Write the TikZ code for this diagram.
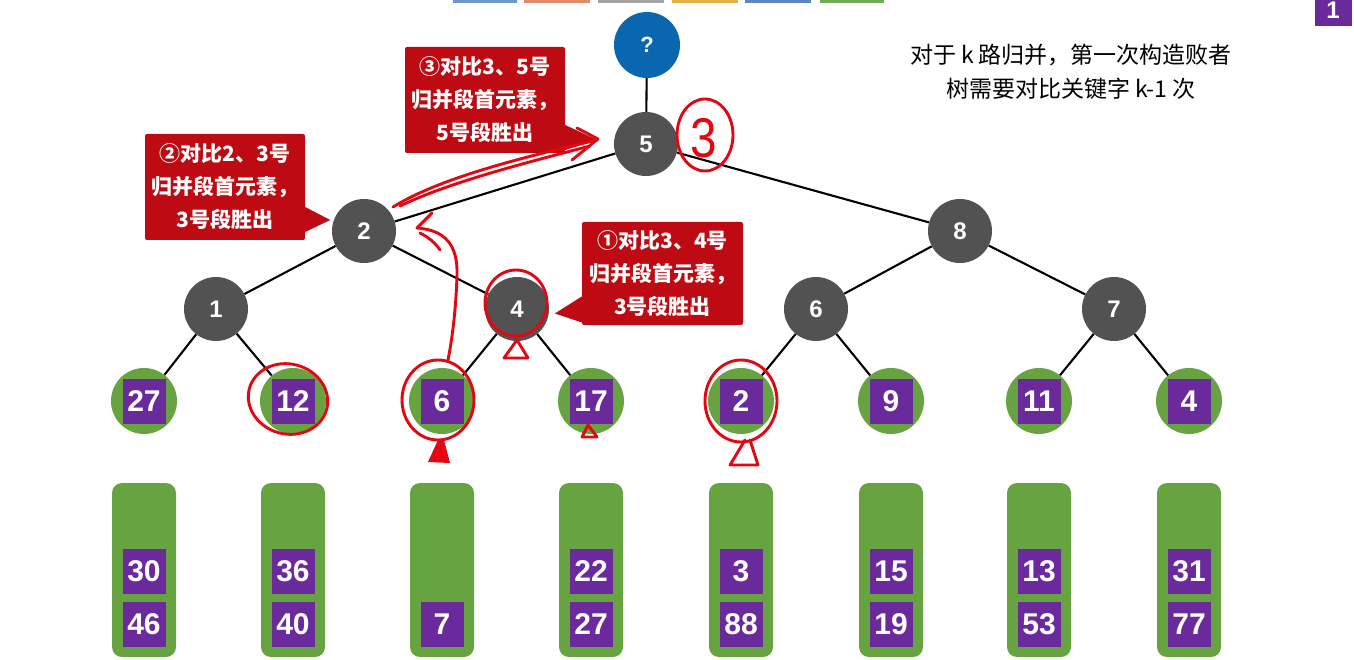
\documentclass[tikz,border=0pt]{standalone}
\usepackage{fontspec}
\setmainfont{Liberation Sans}
\newfontfamily\cjk{Noto Sans CJK SC}
\usetikzlibrary{calc}
\definecolor{nodegray}{HTML}{525252}
\definecolor{rootblue}{HTML}{0A67AF}
\definecolor{leafgreen}{HTML}{68A342}
\definecolor{keypurple}{HTML}{6B2A9B}
\definecolor{callred}{HTML}{BE0A12}
\definecolor{inkred}{HTML}{E30613}
\definecolor{barblue}{HTML}{7096C8}
\definecolor{barorange}{HTML}{E08A6C}
\definecolor{bargray}{HTML}{A4A4A4}
\definecolor{baryellow}{HTML}{E2B344}
\definecolor{barblueb}{HTML}{5E84C2}
\definecolor{bargreen}{HTML}{74A957}
\begin{document}
\begin{tikzpicture}[x=1pt,y=-1pt,
 innernode/.style={circle, fill=nodegray, minimum size=64pt, inner sep=0pt, text=white, font=\bfseries\fontsize{24}{24}\selectfont},
 rootnode/.style={innernode, fill=rootblue, minimum size=66pt, font=\bfseries\fontsize{22}{22}\selectfont},
 leafnode/.style={circle, fill=leafgreen, minimum size=66pt, inner sep=0pt},
 keybox/.style={fill=keypurple, minimum width=43pt, minimum height=45pt, inner sep=0pt, text=white, font=\bfseries\fontsize{30}{30}\selectfont},
 runbox/.style={fill=leafgreen, rounded corners=10pt, minimum width=64pt, minimum height=174pt, inner sep=0pt},
 edge/.style={line width=2.1pt, black},
 callout/.style={fill=callred, text=white, inner sep=0pt, minimum width=160pt, minimum height=106pt, align=center, font=\cjk\bfseries\fontsize{21}{33}\selectfont, rounded corners=2pt},
 ink/.style={draw=inkred, line width=2.9pt, line cap=round, line join=round},
]
\useasboundingbox (0,0) rectangle (1354,660);
\fill[white] (0,0) rectangle (1354,660);

% top colour bars
\fill[barblue] (453,0) rectangle (517,3);
\fill[barorange] (524,0) rectangle (590,3);
\fill[bargray] (598,0) rectangle (664,3);
\fill[baryellow] (672,0) rectangle (738,3);
\fill[barblueb] (745,0) rectangle (811,3);
\fill[bargreen] (820,0) rectangle (884,3);

% top-right page marker
\begin{scope}
\clip (0,0) rectangle (1354,660);
\node[fill=keypurple, minimum width=37pt, minimum height=32pt, inner sep=0pt, text=white, font=\bfseries\fontsize{24}{24}\selectfont] (pg) at (1333,10) {1};
\end{scope}

% tree nodes
\node[rootnode] (root) at (647,45) {?};
\node[innernode] (n5) at (646,144) {5};
\node[innernode] (n2) at (364,231) {2};
\node[innernode] (n8) at (960,231) {8};
\node[innernode] (n1) at (216,309) {1};
\node[innernode] (n4) at (517,309) {4};
\node[innernode] (n6) at (816,309) {6};
\node[innernode] (n7) at (1114,309) {7};

\foreach \i/\x/\v in {1/144/27,2/293/12,3/442/6,4/591/17,5/741/2,6/891/9,7/1039/11,8/1189/4} {
  \node[leafnode] (l\i) at (\x,401) {};
  \node[keybox] (k\i) at (\x,401) {\v};
  \node[runbox] (r\i) at (\x,570) {};
}
\foreach \i/\x/\a/\b in {1/144/30/46,2/293/36/40,4/591/22/27,5/741/3/88,6/891/15/19,7/1039/13/53,8/1189/31/77} {
  \node[keybox] (ra\i) at (\x,571) {\a};
  \node[keybox] (rb\i) at (\x,624) {\b};
}
\node[keybox] (rb3) at (442,624) {7};

% edges
\draw[edge] (root) -- (n5);
\draw[edge] (n5) -- (n2);
\draw[edge] (n5) -- (n8);
\draw[edge] (n2) -- (n1);
\draw[edge] (n2) -- (n4);
\draw[edge] (n8) -- (n6);
\draw[edge] (n8) -- (n7);
\draw[edge] (n1) -- (l1);
\draw[edge] (n1) -- (l2);
\draw[edge] (n4) -- (l3);
\draw[edge] (n4) -- (l4);
\draw[edge] (n6) -- (l5);
\draw[edge] (n6) -- (l6);
\draw[edge] (n7) -- (l7);
\draw[edge] (n7) -- (l8);

% callouts
\node[callout] (c3) at (485,100) {③对比3、5号\\归并段首元素，\\5号段胜出};
\fill[callred] ($(c3.east)+(0,25)$) -- ($(c3.east)+(32,40)$) -- ($(c3.east)+(0,50)$) -- cycle;
\node[callout] (c2) at (225,187) {②对比2、3号\\归并段首元素，\\3号段胜出};
\fill[callred] ($(c2.east)+(0,20)$) -- ($(c2.east)+(25,33)$) -- ($(c2.east)+(0,45)$) -- cycle;
\node[callout, minimum width=161pt, minimum height=103pt] (c1) at (662.5,273.5) {①对比3、4号\\归并段首元素，\\3号段胜出};
\fill[callred] ($(c1.west)+(0,23)$) -- ($(c1.west)+(-27,40)$) -- ($(c1.west)+(0,49)$) -- cycle;

% note
\node[font=\cjk\fontsize{23}{34}\selectfont, align=center] (note) at (1071,72) {对于 k 路归并，第一次构造败者\\树需要对比关键字 k-1 次};

% hand-drawn red ink
\node[text=inkred, font=\fontsize{56}{56}\selectfont, xscale=0.85] (ink3) at (704,138) {3};
\draw[ink] (705,135) ellipse [x radius=28, y radius=36];
\draw[ink, rotate around={-15:(288,399)}] (288,399) ellipse [x radius=40, y radius=35];
\draw[ink] (438,400) ellipse [x radius=36, y radius=40];
\fill[inkred] (438,440) -- (428,462) -- (450,463) -- (444,440) -- cycle;
\draw[ink] (741,401) ellipse [x radius=36, y radius=41];
\draw[ink] (745,440) -- (730,465) -- (758,465) -- (750,440);
\draw[ink] (516,303) ellipse [x radius=31, y radius=33];
\draw[ink] (517,340) -- (504,358) -- (528,358) -- cycle;
\draw[ink] (588,425) -- (582,437) -- (597,437) -- cycle;
% arrow from node 2 to node 5
\draw[ink] (393,207) .. controls (440,178) and (520,158) .. (597,140);
\draw[ink] (400,206) .. controls (450,182) and (525,163) .. (590,146);
\draw[ink] (577,128) -- (598,139) -- (572,160);
% arrow from leaf 6 up to node 2
\draw[ink] (432,213) -- (417,228) .. controls (445,230) and (458,245) .. (457,275) .. controls (456,310) and (452,340) .. (448,360);
\draw[ink] (420,233) .. controls (430,238) and (436,244) .. (440,250);
\end{tikzpicture}
\end{document}
